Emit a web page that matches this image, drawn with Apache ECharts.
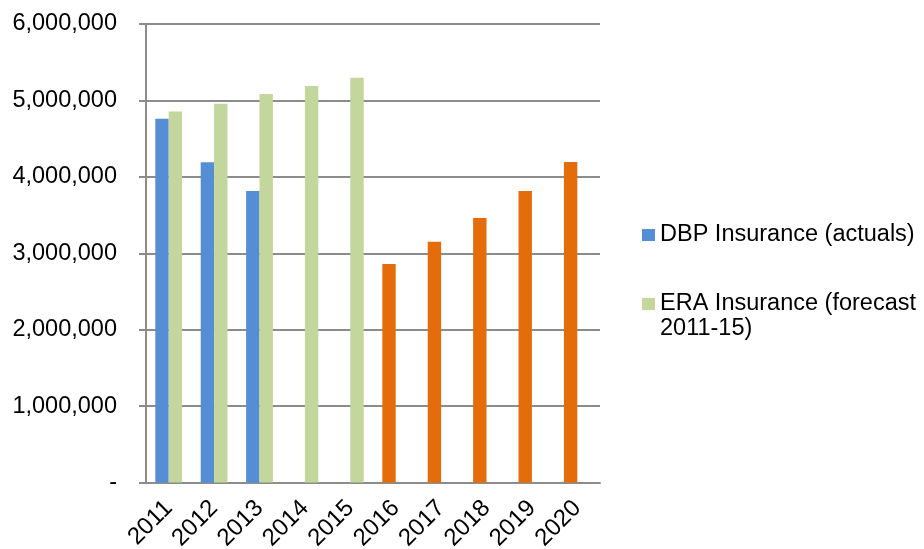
<!DOCTYPE html>
<html>
<head>
<meta charset="utf-8">
<script src="https://cdn.jsdelivr.net/npm/echarts@6/dist/echarts.min.js"></script>
<style>
  html, body { margin: 0; padding: 0; background: #ffffff; }
  #chart { width: 924px; height: 549px; }
</style>
</head>
<body>
<div id="chart"></div>
<script>
// Categories and values
const years = ['2011', '2012', '2013', '2014', '2015', '2016', '2017', '2018', '2019', '2020'];
const dbpValues = [4760000, 4190000, 3815000, null, null, 2860000, 3150000, 3460000, 3815000, 4195000];
const eraValues = [4855000, 4955000, 5085000, 5190000, 5295000, null, null, null, null, null];
const projectedYears = ['2016', '2017', '2018', '2019', '2020'];

const dbpName = 'DBP Insurance (actuals)';
const eraName = 'ERA Insurance (forecast\n2011-15)';

const BLUE = '#558ED5';
const GREEN = '#C3D69B';
const ORANGE = '#E46C0A';
const GRID_GREY = '#8c8c8c';
const FONT = 'Liberation Sans, Arial, sans-serif';

const dbpData = dbpValues.map((v, i) => (
  projectedYears.includes(years[i])
    ? { value: v, itemStyle: { color: ORANGE } }
    : v
));

const chart = echarts.init(document.getElementById('chart'), null, { renderer: 'canvas' });

chart.setOption({
  animation: false,
  backgroundColor: '#ffffff',
  textStyle: { fontFamily: FONT },
  grid: {
    left: 146, right: 324, top: 24, bottom: 66.5,
    containLabel: false,
    outerBoundsMode: 'none'
  },
  legend: [
    {
      data: [dbpName],
      orient: 'vertical',
      left: 642,
      top: 222.5,
      padding: 0,
      itemWidth: 13,
      itemHeight: 12,
      icon: 'rect',
      textStyle: { fontSize: 23.5, lineHeight: 25, color: '#000000', fontFamily: FONT }
    },
    {
      data: [eraName],
      orient: 'vertical',
      left: 642,
      top: 266.5,
      padding: 0,
      itemWidth: 13,
      itemHeight: 12,
      icon: 'rect',
      // leading blank line keeps the marker level with the first text line
      formatter: name => '\n' + name,
      textStyle: { fontSize: 23.5, lineHeight: 25, color: '#000000', fontFamily: FONT }
    }
  ],
  xAxis: {
    type: 'category',
    data: years,
    axisLine: { lineStyle: { color: GRID_GREY, width: 2 } },
    axisTick: { length: 8, lineStyle: { color: GRID_GREY, width: 2 } },
    axisLabel: { rotate: 45, fontSize: 24, color: '#000000', margin: 22, interval: 0, fontFamily: FONT }
  },
  yAxis: {
    type: 'value',
    min: 0,
    max: 6000000,
    interval: 1000000,
    axisLine: { show: true, lineStyle: { color: GRID_GREY, width: 2 } },
    axisTick: { show: true, length: 7, lineStyle: { color: GRID_GREY, width: 2 } },
    splitLine: { lineStyle: { color: GRID_GREY, width: 2 } },
    axisLabel: {
      fontSize: 23.5,
      color: '#000000',
      margin: 29,
      fontFamily: FONT,
      formatter: v => (v === 0 ? '-' : v.toLocaleString('en-US'))
    }
  },
  series: [
    {
      name: dbpName,
      type: 'bar',
      data: dbpData,
      itemStyle: { color: BLUE },
      barGap: '0%',
      barCategoryGap: '41%'
    },
    {
      name: eraName,
      type: 'bar',
      data: eraValues,
      itemStyle: { color: GREEN },
      barGap: '0%',
      barCategoryGap: '41%'
    }
  ]
});
</script>
</body>
</html>
